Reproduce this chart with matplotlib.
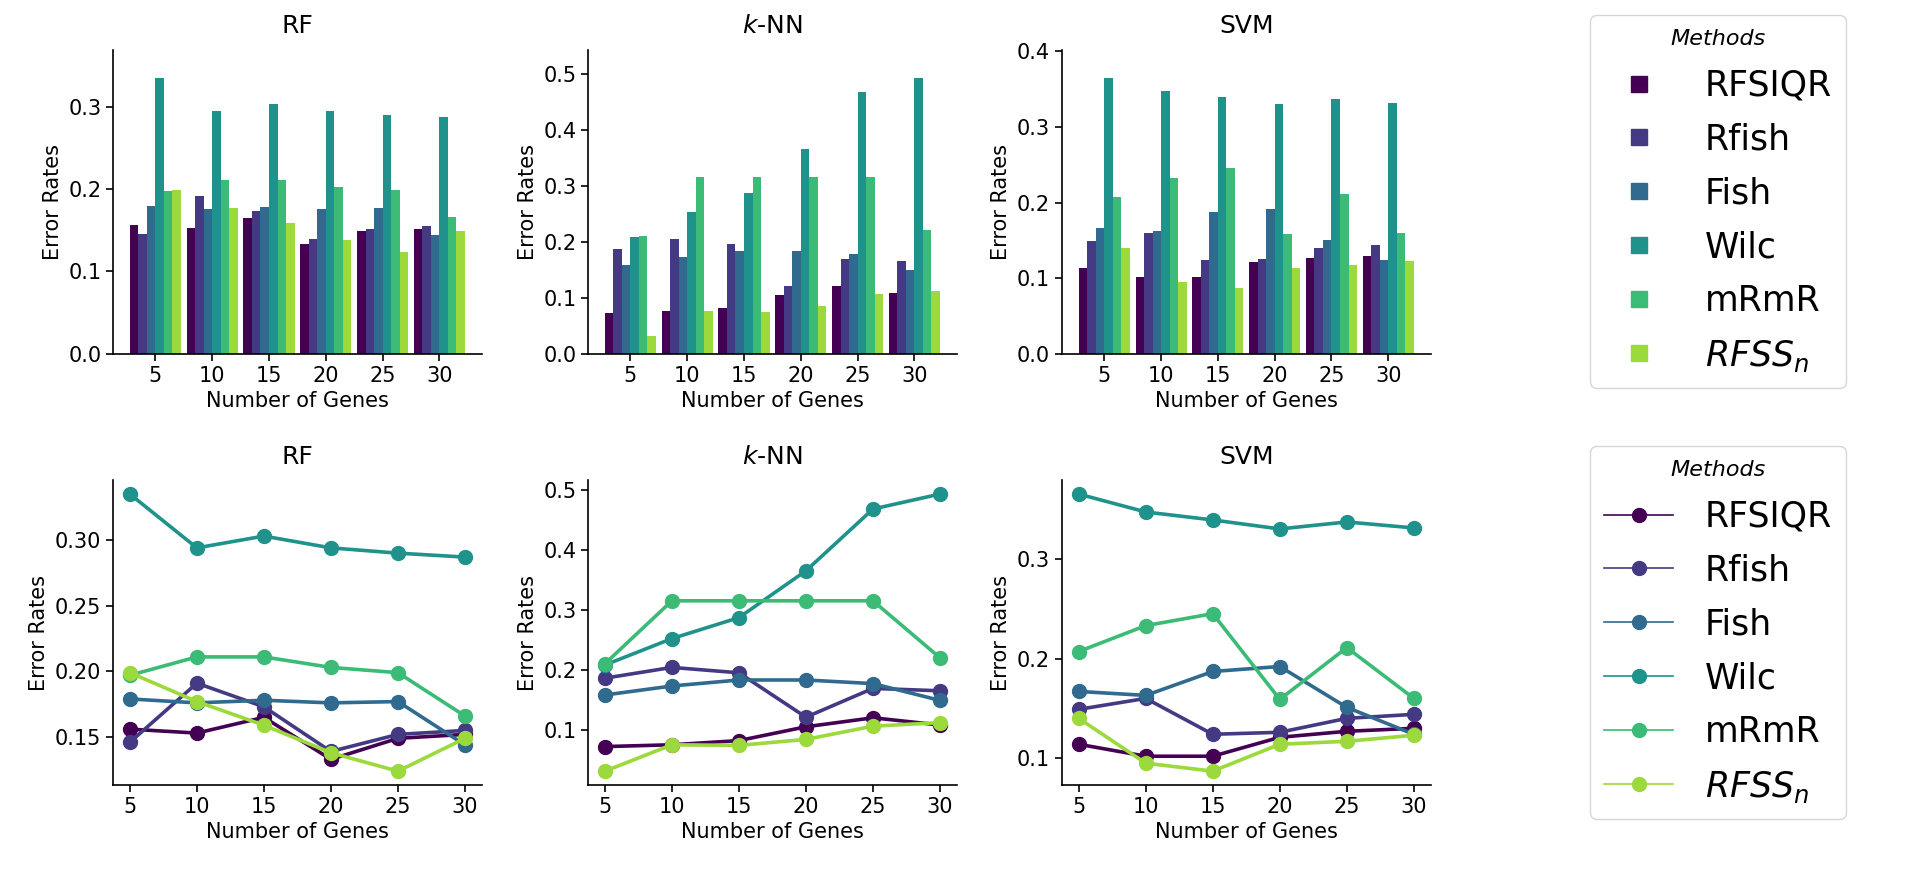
import numpy as np
import matplotlib
matplotlib.use("Agg")
import matplotlib.pyplot as plt
from matplotlib.lines import Line2D
from matplotlib.ticker import MultipleLocator


# Data (error rates per method, one list per method)
genes = [5, 10, 15, 20, 25, 30]
methods = ["RFSIQR", "Rfish", "Fish", "Wilc", "mRmR", "$RFSS_n$"]
classifiers = ["RF", "$k$-NN", "SVM"]

rf_rates = [
    [0.156, 0.153, 0.165, 0.133, 0.149, 0.152],  # RFSIQR
    [0.146, 0.191, 0.173, 0.139, 0.152, 0.155],  # Rfish
    [0.179, 0.176, 0.178, 0.176, 0.177, 0.144],  # Fish
    [0.335, 0.294, 0.303, 0.294, 0.290, 0.287],  # Wilc
    [0.197, 0.211, 0.211, 0.203, 0.199, 0.166],  # mRmR
    [0.199, 0.177, 0.159, 0.138, 0.124, 0.149],  # RFSSn
]

knn_rates = [
    [0.073, 0.076, 0.083, 0.106, 0.121, 0.109],
    [0.187, 0.205, 0.196, 0.122, 0.170, 0.166],
    [0.159, 0.174, 0.184, 0.184, 0.178, 0.150],
    [0.209, 0.253, 0.288, 0.366, 0.469, 0.494],
    [0.211, 0.316, 0.316, 0.316, 0.316, 0.221],
    [0.032, 0.076, 0.075, 0.085, 0.107, 0.113],
]

svm_rates = [
    [0.114, 0.102, 0.102, 0.121, 0.127, 0.130],
    [0.149, 0.160, 0.124, 0.126, 0.140, 0.144],
    [0.167, 0.163, 0.187, 0.192, 0.151, 0.124],
    [0.365, 0.347, 0.339, 0.330, 0.337, 0.331],
    [0.207, 0.233, 0.245, 0.159, 0.211, 0.160],
    [0.140, 0.095, 0.087, 0.114, 0.117, 0.123],
]

all_rates = [rf_rates, knn_rates, svm_rates]

colors = plt.cm.viridis(np.linspace(0, 0.85, len(methods)))

plt.rcParams["axes.linewidth"] = 1.2
plt.rcParams["xtick.major.size"] = 5
plt.rcParams["ytick.major.size"] = 5
plt.rcParams["xtick.major.width"] = 1.2
plt.rcParams["ytick.major.width"] = 1.2
plt.rcParams["xtick.labelsize"] = 15
plt.rcParams["ytick.labelsize"] = 15
plt.rcParams["axes.labelsize"] = 15
plt.rcParams["axes.titlesize"] = 18


#Grouped bar chart for one classifier
def bar_panel(ax, rates, title):
    x = np.arange(len(genes))
    width = 0.15
    for i, vals in enumerate(rates):
        ax.bar(x + (i - 2.5) * width, vals, width, color=colors[i])
    ax.set_xticks(x)
    ax.set_xticklabels(genes)
    ax.set_ylim(0, 1.1 * np.max(rates))
    ax.set_xlabel("Number of Genes")
    ax.set_ylabel("Error Rates")
    ax.set_title(title, pad=12)
    ax.spines["top"].set_visible(False)
    ax.spines["right"].set_visible(False)


#Point/line chart for one classifier
def line_panel(ax, rates, title):
    for i, vals in enumerate(rates):
        ax.plot(genes, vals, color=colors[i], lw=2.6, marker="o", markersize=10)
    ax.set_xticks(genes)
    ax.set_xlabel("Number of Genes")
    ax.set_ylabel("Error Rates")
    ax.set_title(title, pad=12)
    ax.spines["top"].set_visible(False)
    ax.spines["right"].set_visible(False)


fig = plt.figure(figsize=(19.2, 8.71), dpi=100)

lefts = [0.0589, 0.3063, 0.5531]
w = 0.192
for j, (rates, name) in enumerate(zip(all_rates, classifiers)):
    ax_top = fig.add_axes([lefts[j], 0.5936, w, 0.349])
    bar_panel(ax_top, rates, name)
    ax_bot = fig.add_axes([lefts[j], 0.0987, w, 0.350])
    line_panel(ax_bot, rates, name)
    if name == "SVM":
        ax_bot.yaxis.set_major_locator(MultipleLocator(0.1))


# Legends on the right side
bar_handles = [Line2D([], [], ls="none", marker="s", markersize=11, color=c) for c in colors]
line_handles = [Line2D([], [], lw=1.2, marker="o", markersize=10, color=c) for c in colors]

leg_opts = dict(title="Methods", fontsize=25, title_fontsize=16, labelspacing=0.57,
                handletextpad=0.9, loc="upper left", borderaxespad=0)

leg1 = fig.legend(bar_handles, methods, bbox_to_anchor=(1590 / 1920, 1 - 15 / 871), **leg_opts)
leg1.get_title().set_fontstyle("italic")

leg2 = fig.legend(line_handles, methods, bbox_to_anchor=(1590 / 1920, 1 - 446 / 871), **leg_opts)
leg2.get_title().set_fontstyle("italic")

fig.savefig("out.png", dpi=100)
plt.close(fig)
